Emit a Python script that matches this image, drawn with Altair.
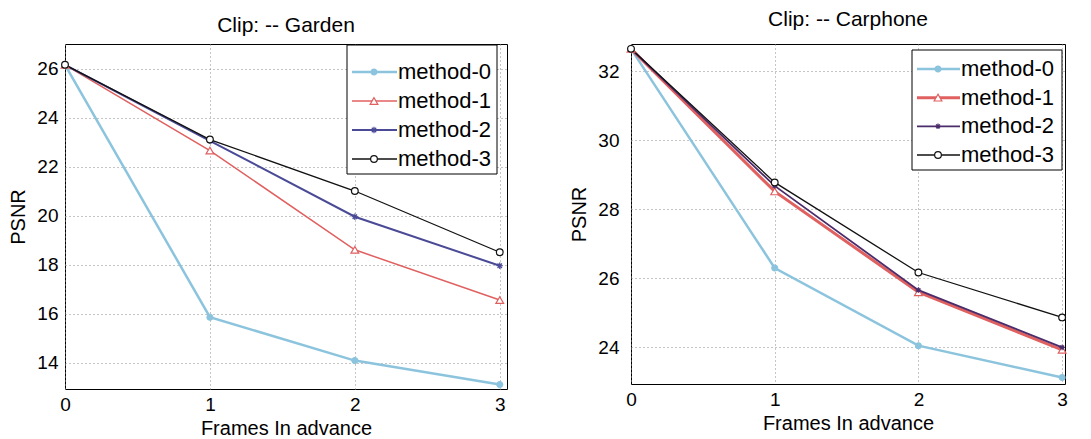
import altair as alt
import pandas as pd

frames = [0, 1, 2, 3]
methods = ["method-0", "method-1", "method-2", "method-3"]

garden_m0 = [26.15, 15.85, 14.08, 13.1]
garden_m1 = [26.15, 22.65, 18.6, 16.55]
garden_m2 = [26.15, 23.05, 19.95, 17.95]
garden_m3 = [26.15, 23.1, 21.0, 18.5]

carphone_m0 = [32.65, 26.3, 24.05, 23.13]
carphone_m1 = [32.65, 28.52, 25.6, 23.93]
carphone_m2 = [32.65, 28.68, 25.66, 24.0]
carphone_m3 = [32.65, 28.78, 26.17, 24.87]

garden_ticks = [14, 16, 18, 20, 22, 24, 26]
carphone_ticks = [24, 26, 28, 30, 32]

FONT = "Liberation Sans"
ASTERISK = "M-1,0L1,0M0,-1L0,1M-0.7,-0.7L0.7,0.7M-0.7,0.7L0.7,-0.7"


def long_df(series):
    rows = []
    for m, vals in zip(methods, series):
        for f, v in zip(frames, vals):
            rows.append({"frame": f, "method": m, "psnr": v})
    return pd.DataFrame(rows)


def panel(series, title, xmax, ydom, yvals, w, h, colors, widths, sizes,
          box, rows, line_x, mark_x, text_x, label_pad, title_offset):
    data = long_df(series)
    shapes = ["circle", "triangle-up", ASTERISK, "circle"]
    fills = [colors[0], "white", colors[2], "white"]

    color_scale = alt.Scale(domain=methods, range=colors)
    stroke = alt.Stroke("method:N", scale=color_scale, legend=None)
    sw = alt.StrokeWidth("method:N", scale=alt.Scale(type="ordinal", domain=methods, range=widths), legend=None)
    shape = alt.Shape("method:N", scale=alt.Scale(domain=methods, range=shapes), legend=None)
    fill = alt.Fill("method:N", scale=alt.Scale(domain=methods, range=fills), legend=None)
    size = alt.Size("method:N", scale=alt.Scale(type="ordinal", domain=methods, range=sizes), legend=None)

    x = alt.X("frame:Q",
              scale=alt.Scale(domain=[0, xmax], nice=False, zero=False),
              axis=alt.Axis(values=frames, format="d", title="Frames In advance",
                            grid=True, gridDash=[1, 3], gridColor="#8a8a8a",
                            domain=False, ticks=False, labelFlush=False,
                            labelOverlap=False, labelPadding=6, titlePadding=4))
    y = alt.Y("psnr:Q",
              scale=alt.Scale(domain=ydom, nice=False, zero=False),
              axis=alt.Axis(values=yvals, title="PSNR", grid=True, gridDash=[1, 3],
                            gridColor="#8a8a8a", domain=False, ticks=False,
                            labelFlush=False, labelOverlap=False,
                            labelPadding=label_pad, titlePadding=8))

    lines = alt.Chart(data).mark_line().encode(x=x, y=y, stroke=stroke, strokeWidth=sw)
    points = alt.Chart(data).mark_point(filled=True, opacity=1, strokeWidth=1.2).encode(
        x=x, y=y, shape=shape, stroke=stroke, fill=fill, size=size)
    data_layer = alt.layer(lines, points)

    leg_df = pd.DataFrame({"method": methods})
    ly = alt.Y("method:N",
               scale=alt.Scale(type="point", domain=methods, range=[rows[0], rows[1]], padding=0),
               axis=None)
    box_mark = alt.Chart(pd.DataFrame({"b": [0]})).mark_rect(
        fill="white", stroke="black", strokeWidth=1).encode(
        x=alt.value(box[0]), x2=alt.value(box[1]), y=alt.value(box[2]), y2=alt.value(box[3]))
    leg_rule = alt.Chart(leg_df).mark_rule().encode(
        x=alt.value(line_x[0]), x2=alt.value(line_x[1]), y=ly, stroke=stroke, strokeWidth=sw)
    leg_pt = alt.Chart(leg_df).mark_point(filled=True, opacity=1, strokeWidth=1.2).encode(
        x=alt.value(mark_x), y=ly, shape=shape, stroke=stroke, fill=fill, size=size)
    leg_text = alt.Chart(leg_df).mark_text(align="left", baseline="middle", fontSize=22,
                                           font=FONT, color="black").encode(
        x=alt.value(text_x), y=ly, text="method:N")
    legend_layer = alt.layer(box_mark, leg_rule, leg_pt, leg_text)

    return alt.layer(data_layer, legend_layer).resolve_scale(y="independent").properties(
        width=w, height=h,
        title=alt.TitleParams(title, fontSize=21, font=FONT, fontWeight="normal",
                              color="black", offset=title_offset))


left = panel([garden_m0, garden_m1, garden_m2, garden_m3], "Clip: -- Garden",
             3.05, [12.92, 27.0], garden_ticks, 442, 345,
             ["#8cc4de", "#e06060", "#4a4a96", "#111111"],
             [2.5, 1.5, 2.0, 1.3], [35, 60, 40, 45],
             [282, 432, 1, 130], [28, 115], [287, 332], 309, 333, 7, 8)

right = panel([carphone_m0, carphone_m1, carphone_m2, carphone_m3], "Clip: -- Carphone",
              3.02, [22.94, 32.79], carphone_ticks, 434, 340,
              ["#8cc4de", "#e06060", "#4a2c6a", "#111111"],
              [2.5, 3.0, 1.8, 1.3], [35, 60, 30, 45],
              [281, 431, 6, 126], [25, 111], [286, 329], 307, 330, 12, 13)

chart = alt.hconcat(left, right, spacing=61).resolve_scale(
    stroke="independent", fill="independent", shape="independent",
    size="independent", strokeWidth="independent"
).configure_view(stroke="black", strokeWidth=1).configure_axis(
    labelFont=FONT, titleFont=FONT, labelFontSize=19, titleFontSize=20,
    labelColor="black", titleColor="black", titleFontWeight="normal"
).properties(padding={"left": 0, "top": 0, "right": 0, "bottom": 0}, background="white")

chart.save("out.html", embed_options={"renderer": "svg", "actions": False})
